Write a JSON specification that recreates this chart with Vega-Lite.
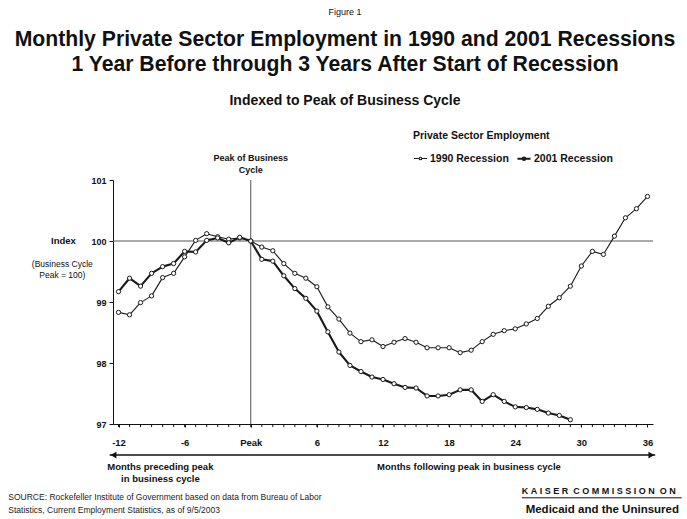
{
  "$schema": "https://vega.github.io/schema/vega-lite/v6.json",
  "width": 540,
  "height": 244,
  "autosize": {"type": "none"},
  "padding": {"left": 113, "top": 180, "right": 34, "bottom": 95},
  "background": "white",
  "config": {"view": {"stroke": null}, "font": "Liberation Sans", "axis": {"labelOverlap": false}},
  "title": {
    "text": ["Monthly Private Sector Employment in 1990 and 2001 Recessions", "1 Year Before through 3 Years After Start of Recession"],
    "subtitle": "Indexed to Peak of Business Cycle",
    "font": "Liberation Sans", "fontSize": 21.2, "fontWeight": "bold", "lineHeight": 25, "color": "#111",
    "subtitleFont": "Liberation Sans", "subtitleFontSize": 14, "subtitleFontWeight": "bold", "subtitleColor": "#111", "subtitlePadding": 19,
    "anchor": "middle", "frame": "group", "dx": -38, "offset": -100
  },
  "data": {"values": [
    {"m": -12, "series": "1990 Recession", "v": 98.83}, {"m": -11, "series": "1990 Recession", "v": 98.79},
    {"m": -10, "series": "1990 Recession", "v": 98.99}, {"m": -9, "series": "1990 Recession", "v": 99.10},
    {"m": -8, "series": "1990 Recession", "v": 99.40}, {"m": -7, "series": "1990 Recession", "v": 99.47},
    {"m": -6, "series": "1990 Recession", "v": 99.74}, {"m": -5, "series": "1990 Recession", "v": 100.01},
    {"m": -4, "series": "1990 Recession", "v": 100.12}, {"m": -3, "series": "1990 Recession", "v": 100.07},
    {"m": -2, "series": "1990 Recession", "v": 100.03}, {"m": -1, "series": "1990 Recession", "v": 100.05},
    {"m": 0, "series": "1990 Recession", "v": 100.0}, {"m": 1, "series": "1990 Recession", "v": 99.90},
    {"m": 2, "series": "1990 Recession", "v": 99.84}, {"m": 3, "series": "1990 Recession", "v": 99.63},
    {"m": 4, "series": "1990 Recession", "v": 99.47}, {"m": 5, "series": "1990 Recession", "v": 99.39},
    {"m": 6, "series": "1990 Recession", "v": 99.25}, {"m": 7, "series": "1990 Recession", "v": 98.92},
    {"m": 8, "series": "1990 Recession", "v": 98.72}, {"m": 9, "series": "1990 Recession", "v": 98.49},
    {"m": 10, "series": "1990 Recession", "v": 98.35}, {"m": 11, "series": "1990 Recession", "v": 98.38},
    {"m": 12, "series": "1990 Recession", "v": 98.27}, {"m": 13, "series": "1990 Recession", "v": 98.34},
    {"m": 14, "series": "1990 Recession", "v": 98.40}, {"m": 15, "series": "1990 Recession", "v": 98.34},
    {"m": 16, "series": "1990 Recession", "v": 98.25}, {"m": 17, "series": "1990 Recession", "v": 98.25},
    {"m": 18, "series": "1990 Recession", "v": 98.25}, {"m": 19, "series": "1990 Recession", "v": 98.17},
    {"m": 20, "series": "1990 Recession", "v": 98.21}, {"m": 21, "series": "1990 Recession", "v": 98.35},
    {"m": 22, "series": "1990 Recession", "v": 98.47}, {"m": 23, "series": "1990 Recession", "v": 98.53},
    {"m": 24, "series": "1990 Recession", "v": 98.56}, {"m": 25, "series": "1990 Recession", "v": 98.64},
    {"m": 26, "series": "1990 Recession", "v": 98.73}, {"m": 27, "series": "1990 Recession", "v": 98.93},
    {"m": 28, "series": "1990 Recession", "v": 99.07}, {"m": 29, "series": "1990 Recession", "v": 99.26},
    {"m": 30, "series": "1990 Recession", "v": 99.59}, {"m": 31, "series": "1990 Recession", "v": 99.83},
    {"m": 32, "series": "1990 Recession", "v": 99.78}, {"m": 33, "series": "1990 Recession", "v": 100.08},
    {"m": 34, "series": "1990 Recession", "v": 100.38}, {"m": 35, "series": "1990 Recession", "v": 100.53},
    {"m": 36, "series": "1990 Recession", "v": 100.73},
    {"m": -12, "series": "2001 Recession", "v": 99.17}, {"m": -11, "series": "2001 Recession", "v": 99.39},
    {"m": -10, "series": "2001 Recession", "v": 99.26}, {"m": -9, "series": "2001 Recession", "v": 99.47},
    {"m": -8, "series": "2001 Recession", "v": 99.58}, {"m": -7, "series": "2001 Recession", "v": 99.63},
    {"m": -6, "series": "2001 Recession", "v": 99.83}, {"m": -5, "series": "2001 Recession", "v": 99.82},
    {"m": -4, "series": "2001 Recession", "v": 100.01}, {"m": -3, "series": "2001 Recession", "v": 100.05},
    {"m": -2, "series": "2001 Recession", "v": 99.97}, {"m": -1, "series": "2001 Recession", "v": 100.06},
    {"m": 0, "series": "2001 Recession", "v": 100.0}, {"m": 1, "series": "2001 Recession", "v": 99.70},
    {"m": 2, "series": "2001 Recession", "v": 99.67}, {"m": 3, "series": "2001 Recession", "v": 99.43},
    {"m": 4, "series": "2001 Recession", "v": 99.22}, {"m": 5, "series": "2001 Recession", "v": 99.06},
    {"m": 6, "series": "2001 Recession", "v": 98.85}, {"m": 7, "series": "2001 Recession", "v": 98.51},
    {"m": 8, "series": "2001 Recession", "v": 98.18}, {"m": 9, "series": "2001 Recession", "v": 97.96},
    {"m": 10, "series": "2001 Recession", "v": 97.86}, {"m": 11, "series": "2001 Recession", "v": 97.77},
    {"m": 12, "series": "2001 Recession", "v": 97.73}, {"m": 13, "series": "2001 Recession", "v": 97.66},
    {"m": 14, "series": "2001 Recession", "v": 97.60}, {"m": 15, "series": "2001 Recession", "v": 97.59},
    {"m": 16, "series": "2001 Recession", "v": 97.46}, {"m": 17, "series": "2001 Recession", "v": 97.46},
    {"m": 18, "series": "2001 Recession", "v": 97.48}, {"m": 19, "series": "2001 Recession", "v": 97.56},
    {"m": 20, "series": "2001 Recession", "v": 97.56}, {"m": 21, "series": "2001 Recession", "v": 97.37},
    {"m": 22, "series": "2001 Recession", "v": 97.48}, {"m": 23, "series": "2001 Recession", "v": 97.37},
    {"m": 24, "series": "2001 Recession", "v": 97.28}, {"m": 25, "series": "2001 Recession", "v": 97.27},
    {"m": 26, "series": "2001 Recession", "v": 97.24}, {"m": 27, "series": "2001 Recession", "v": 97.18},
    {"m": 28, "series": "2001 Recession", "v": 97.14}, {"m": 29, "series": "2001 Recession", "v": 97.07}
  ]},
  "layer": [
    {
      "data": {"values": [{}]},
      "mark": {"type": "rule", "color": "#555", "strokeWidth": 1},
      "encoding": {"y": {"datum": 100, "type": "quantitative", "scale": {"domain": [97, 101], "nice": false, "zero": false},
          "axis": {"values": [97, 98, 99, 100, 101], "format": "d", "title": null, "grid": false, "tickSize": 4, "tickColor": "#111", "domainColor": "#111",
            "labelFont": "Liberation Sans", "labelFontSize": 9, "labelFontWeight": "bold", "labelColor": "#111", "labelPadding": 3, "labelOverlap": false}}}
    },
    {
      "data": {"values": [{}]},
      "mark": {"type": "rule", "color": "#555", "strokeWidth": 1},
      "encoding": {"x": {"datum": 0, "type": "quantitative", "scale": {"domain": [-12.5, 36.5], "nice": false, "zero": false},
          "axis": {"values": [-12, -6, 0, 6, 12, 18, 24, 30, 36],
            "labelExpr": "datum.value == 0 ? 'Peak' : '' + datum.value",
            "title": null, "grid": false, "tickSize": 3, "tickColor": "#111", "domainColor": "#111",
            "labelFont": "Liberation Sans", "labelFontSize": 9.5, "labelFontWeight": "bold", "labelColor": "#111",
            "labelPadding": 10, "labelFlush": false, "labelOverlap": false}}}
    },
    {
      "transform": [{"filter": "datum.series == '1990 Recession'"}],
      "mark": {"type": "rule", "color": "#111", "strokeWidth": 1},
      "encoding": {"x": {"field": "m", "type": "quantitative"}, "y": {"datum": 97}, "y2": {"datum": 96.95}}
    },
    {
      "mark": {"type": "line", "strokeJoin": "round"},
      "encoding": {
        "x": {"field": "m", "type": "quantitative", "scale": {"domain": [-12.5, 36.5], "nice": false, "zero": false},
          "axis": {"values": [-12, -6, 0, 6, 12, 18, 24, 30, 36],
            "labelExpr": "datum.value == 0 ? 'Peak' : '' + datum.value",
            "title": null, "grid": false, "tickSize": 3, "tickColor": "#111", "domainColor": "#111",
            "labelFont": "Liberation Sans", "labelFontSize": 9.5, "labelFontWeight": "bold", "labelColor": "#111",
            "labelPadding": 10, "labelFlush": false, "labelOverlap": false}},
        "y": {"field": "v", "type": "quantitative", "scale": {"domain": [97, 101], "nice": false, "zero": false},
          "axis": {"values": [97, 98, 99, 100, 101], "format": "d", "title": null, "grid": false, "tickSize": 4, "tickColor": "#111", "domainColor": "#111",
            "labelFont": "Liberation Sans", "labelFontSize": 9, "labelFontWeight": "bold", "labelColor": "#111", "labelPadding": 3, "labelOverlap": false}},
        "color": {"field": "series", "type": "nominal", "scale": {"domain": ["1990 Recession", "2001 Recession"], "range": ["#1a1a1a", "#1a1a1a"]},
          "legend": {"title": "Private Sector Employment", "orient": "none", "legendX": 300, "legendY": -49, "direction": "horizontal",
            "titleFont": "Liberation Sans", "titleFontSize": 10.5, "titleFontWeight": "bold", "titleColor": "#111", "titlePadding": 9,
            "labelFont": "Liberation Sans", "labelFontSize": 10.5, "labelFontWeight": "bold", "labelColor": "#111", "labelOffset": 2,
            "symbolType": "M-1,0H-0.2M0.2,0H1M0.2,0A0.2,0.2,0,1,1,-0.2,0A0.2,0.2,0,1,1,0.2,0", "symbolSize": 170,
            "symbolStrokeWidth": 1, "symbolFillColor": "white", "columnPadding": 4}},
        "strokeWidth": {"field": "series", "type": "nominal", "scale": {"domain": ["1990 Recession", "2001 Recession"], "range": [1.1, 2.1]}, "legend": null}
      }
    },
    {
      "mark": {"type": "point", "shape": "circle", "filled": false, "fill": "white", "size": 18, "strokeWidth": 1, "opacity": 1},
      "encoding": {
        "x": {"field": "m", "type": "quantitative"},
        "y": {"field": "v", "type": "quantitative"},
        "color": {"field": "series", "type": "nominal"}
      }
    },
    {
      "data": {"values": [{}]},
      "mark": {"type": "text", "text": "Figure 1", "fontSize": 9, "font": "Liberation Sans", "color": "#111", "baseline": "middle"},
      "encoding": {"x": {"datum": 8.55}, "y": {"datum": 103.75}}
    },
    {
      "data": {"values": [{}]},
      "mark": {"type": "text", "text": ["Peak of Business", "Cycle"], "fontSize": 9, "fontWeight": "bold", "font": "Liberation Sans", "color": "#111", "baseline": "alphabetic", "lineHeight": 12},
      "encoding": {"x": {"datum": 0}, "y": {"datum": 101.31}}
    },
    {
      "data": {"values": [{}]},
      "mark": {"type": "text", "text": "Index", "fontSize": 9.5, "fontWeight": "bold", "font": "Liberation Sans", "color": "#111", "baseline": "middle"},
      "encoding": {"x": {"datum": -17.0}, "y": {"datum": 100.0}}
    },
    {
      "data": {"values": [{}]},
      "mark": {"type": "text", "text": ["(Business Cycle", "Peak = 100)"], "fontSize": 8.5, "font": "Liberation Sans", "color": "#111", "baseline": "middle", "lineHeight": 11},
      "encoding": {"x": {"datum": -17.1}, "y": {"datum": 99.63}}
    },
    {
      "data": {"values": [{}]},
      "mark": {"type": "rule", "color": "#111", "strokeWidth": 1.5},
      "encoding": {"x": {"datum": -12.8}, "x2": {"datum": 36.7}, "y": {"datum": 96.49}}
    },
    {
      "data": {"values": [{}]},
      "mark": {"type": "point", "shape": "triangle-left", "filled": true, "color": "#111", "size": 45, "opacity": 1},
      "encoding": {"x": {"datum": -12.45}, "y": {"datum": 96.49}}
    },
    {
      "data": {"values": [{}]},
      "mark": {"type": "point", "shape": "triangle-right", "filled": true, "color": "#111", "size": 45, "opacity": 1},
      "encoding": {"x": {"datum": 36.35}, "y": {"datum": 96.49}}
    },
    {
      "data": {"values": [{}]},
      "mark": {"type": "text", "text": ["Months preceding peak", "in business cycle"], "fontSize": 9.5, "fontWeight": "bold", "font": "Liberation Sans", "color": "#111", "baseline": "middle", "lineHeight": 12.5},
      "encoding": {"x": {"datum": -8.2}, "y": {"datum": 96.3}}
    },
    {
      "data": {"values": [{}]},
      "mark": {"type": "text", "text": "Months following peak in business cycle", "fontSize": 9.5, "fontWeight": "bold", "font": "Liberation Sans", "color": "#111", "baseline": "middle"},
      "encoding": {"x": {"datum": 19.8}, "y": {"datum": 96.3}}
    },
    {
      "data": {"values": [{}]},
      "mark": {"type": "text", "text": ["SOURCE: Rockefeller Institute of Government based on data from Bureau of Labor", "Statistics, Current Employment Statistics, as of 9/5/2003"], "fontSize": 8.5, "font": "Liberation Sans", "color": "#222", "align": "left", "baseline": "middle", "lineHeight": 13},
      "encoding": {"x": {"datum": -22.0}, "y": {"datum": 95.8}}
    },
    {
      "data": {"values": [{}]},
      "mark": {"type": "text", "text": "K\u00a0A\u00a0I\u00a0S\u00a0E\u00a0R\u00a0\u00a0C\u00a0O\u00a0M\u00a0M\u00a0I\u00a0S\u00a0S\u00a0I\u00a0O\u00a0N\u00a0\u00a0O\u00a0N", "fontSize": 9, "fontWeight": "bold", "font": "Liberation Sans", "color": "#111", "align": "left", "baseline": "middle"},
      "encoding": {"x": {"datum": 24.6}, "y": {"datum": 95.9}}
    },
    {
      "data": {"values": [{}]},
      "mark": {"type": "rule", "color": "#111", "strokeWidth": 1},
      "encoding": {"x": {"datum": 24.6}, "x2": {"datum": 39.1}, "y": {"datum": 95.79}}
    },
    {
      "data": {"values": [{}]},
      "mark": {"type": "text", "text": "Medicaid and the Uninsured", "fontSize": 11.5, "fontWeight": "bold", "font": "Liberation Sans", "color": "#111", "baseline": "middle"},
      "encoding": {"x": {"datum": 31.9}, "y": {"datum": 95.59}}
    }
  ]
}
